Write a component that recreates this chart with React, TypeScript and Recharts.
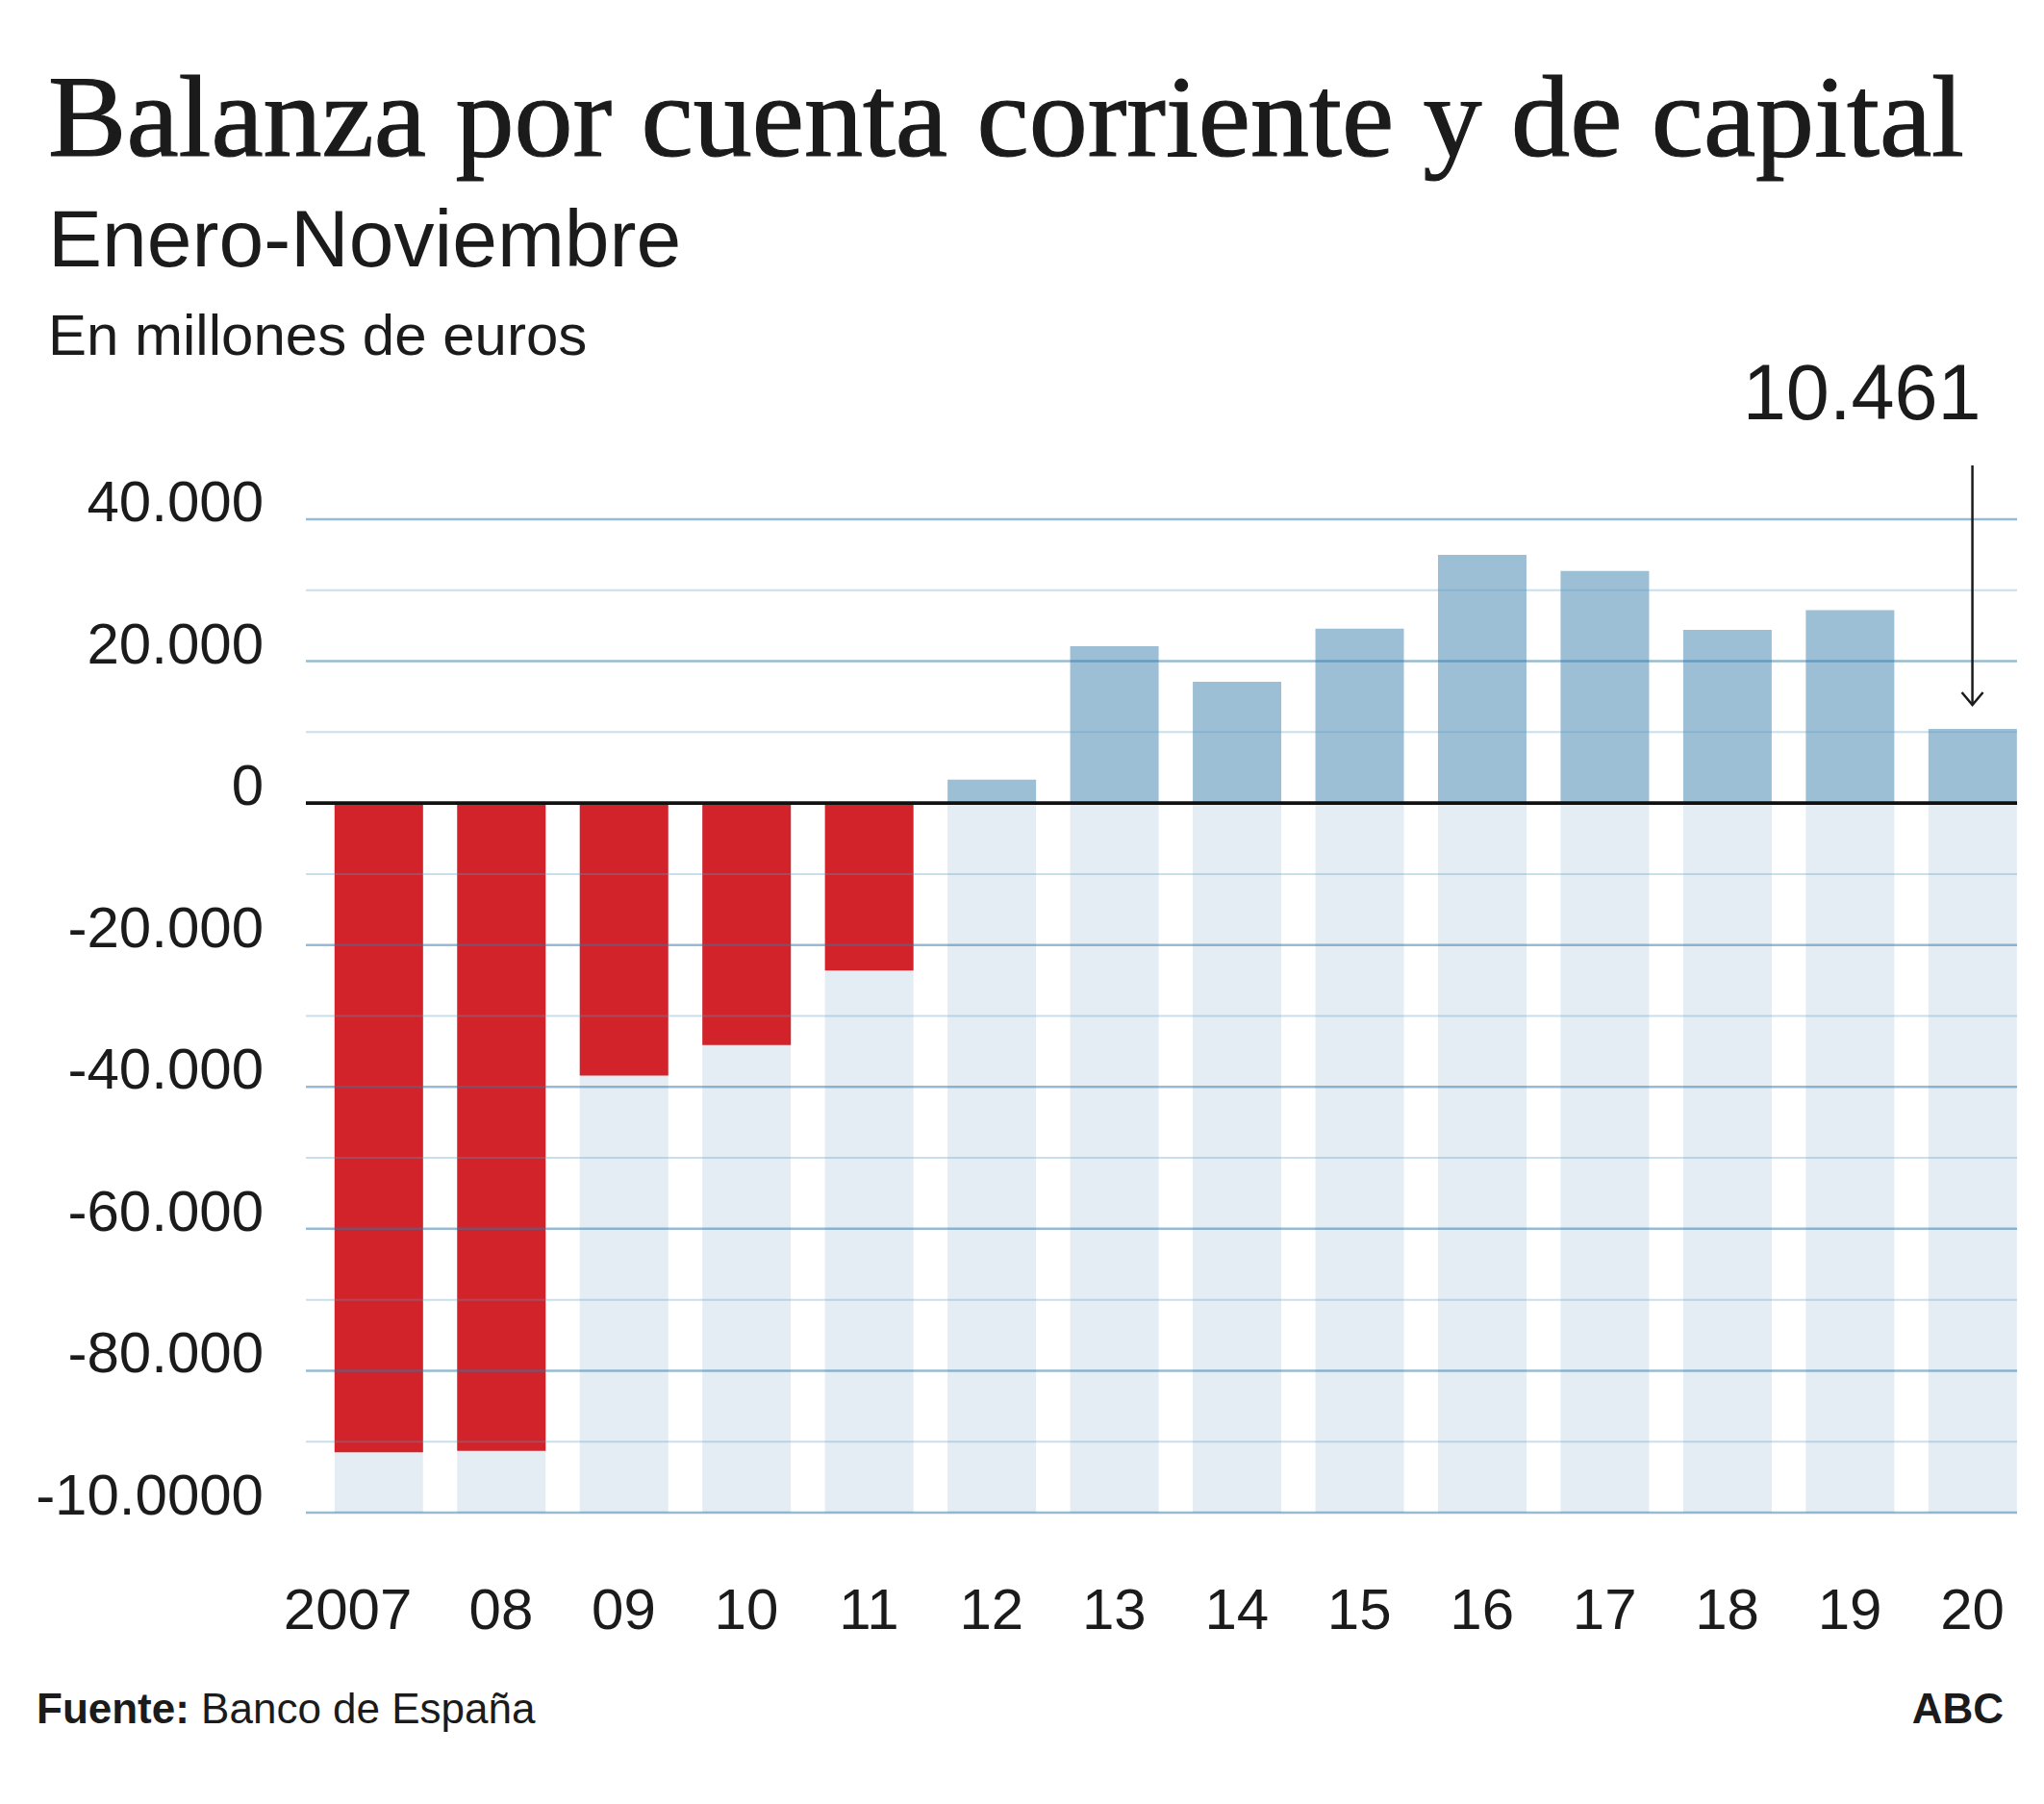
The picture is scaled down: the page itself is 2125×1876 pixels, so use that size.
import React from 'react';
import { BarChart, Bar, XAxis, YAxis, ReferenceLine, ReferenceDot, Cell } from 'recharts';

// ---- data ----
const years = ['2007', '08', '09', '10', '11', '12', '13', '14', '15', '16', '17', '18', '19', '20'];
const balance = [-91500, -91300, -38400, -34100, -23600, 3300, 22100, 17100, 24600, 35000, 32700, 24400, 27200, 10461];
const yTickValues = [40000, 20000, 0, -20000, -40000, -60000, -80000, -100000];
const yTickLabels = ['40.000', '20.000', '0', '-20.000', '-40.000', '-60.000', '-80.000', '-10.0000'];
const majorGridValues = [40000, 20000, -20000, -40000, -60000, -80000, -100000];
const minorGridValues = [30000, 10000, -10000, -30000, -50000, -70000, -90000];
const Y_MIN = -100000;
const Y_MAX = 40000;
const highlightYear = '20';
const highlightLabel = '10.461';
const highlightValue = 10461;

const data = years.map((year, i) => ({ year, value: balance[i], floor: Y_MIN }));

const SANS = '"Liberation Sans", Arial, sans-serif';
const SERIF = '"Liberation Serif", "Times New Roman", serif';
const INK = '#1b1b1b';

const XTick = (props: any) => {
  const { x, y, payload, index } = props;
  const shift = index === 0 ? -32 : 0;
  return (
    <text x={x + shift} y={y} textAnchor="middle" fontSize={60} fontFamily={SANS} fill={INK}>
      {payload.value}
    </text>
  );
};

const YTick = (props: any) => {
  const { x, y, payload } = props;
  const idx = yTickValues.indexOf(payload.value);
  return (
    <text x={x} y={y + 2} textAnchor="end" fontSize={60} fontFamily={SANS} fill={INK}>
      {idx >= 0 ? yTickLabels[idx] : ''}
    </text>
  );
};

const ArrowAnnotation = (props: any) => {
  const { cx, cy } = props;
  const tipY = cy - 25;
  const topY = cy - 274;
  return (
    <g>
      <line x1={cx} y1={topY} x2={cx} y2={tipY} stroke={INK} strokeWidth={2.5} />
      <polyline
        points={`${cx - 11},${tipY - 13} ${cx},${tipY} ${cx + 11},${tipY - 13}`}
        fill="none"
        stroke={INK}
        strokeWidth={2.5}
      />
      <text x={cx + 9} y={cy - 322} textAnchor="end" fontSize={81} fontFamily={SANS} fill={INK}>
        {highlightLabel}
      </text>
    </g>
  );
};

export default function App() {
  return (
    <div style={{ position: 'absolute', left: 0, top: 0, width: 2125, height: 1876, background: '#fff' }}>
      <svg width={2125} height={1876} style={{ position: 'absolute', left: 0, top: 0 }}>
        <text
          x={50}
          y={162}
          fontSize={121}
          fontFamily={SERIF}
          fill={INK}
          stroke={INK}
          strokeWidth={1.2}
          textLength={1992}
          lengthAdjust="spacingAndGlyphs"
        >
          Balanza por cuenta corriente y de capital
        </text>
        <text x={50} y={277} fontSize={84} fontFamily={SANS} fill={INK}>
          Enero-Noviembre
        </text>
        <text x={50} y={369} fontSize={60} fontFamily={SANS} fill={INK}>
          En millones de euros
        </text>
        <text x={38} y={1792} fontSize={44} fontFamily={SANS} fill={INK}>
          <tspan fontWeight="bold">Fuente:</tspan> Banco de España
        </text>
        <text x={2083} y={1792} fontSize={44} fontFamily={SANS} fontWeight="bold" fill={INK} textAnchor="end">
          ABC
        </text>
      </svg>
      <div style={{ position: 'absolute', left: 0, top: 0 }}>
        <BarChart
          width={2125}
          height={1876}
          data={data}
          margin={{ top: 540, right: 28, bottom: 203, left: 38 }}
          barSize={92}
          barGap={-92}
        >
          <XAxis
            dataKey="year"
            axisLine={false}
            tickLine={false}
            tickSize={0}
            tickMargin={121}
            height={100}
            interval={0}
            padding={{ left: 11.8, right: -17.3 }}
            tick={<XTick />}
          />
          <YAxis
            type="number"
            domain={[Y_MIN, Y_MAX]}
            ticks={yTickValues}
            allowDataOverflow
            axisLine={false}
            tickLine={false}
            tickSize={0}
            tickMargin={44}
            width={280}
            interval={0}
            tick={<YTick />}
          />
          <Bar dataKey="floor" fill="#e4edf4" isAnimationActive={false} />
          <Bar dataKey="value" isAnimationActive={false}>
            {data.map((d) => (
              <Cell key={d.year} fill={d.value < 0 ? '#d2232b' : '#9dbfd5'} />
            ))}
          </Bar>
          {minorGridValues.map((v) => (
            <ReferenceLine key={'mi' + v} y={v} stroke="#5b9bc4" strokeOpacity={0.32} strokeWidth={2} />
          ))}
          {majorGridValues.map((v) => (
            <ReferenceLine key={'ma' + v} y={v} stroke="#2f77a6" strokeOpacity={0.5} strokeWidth={2.5} />
          ))}
          <ReferenceLine y={0} stroke="#111" strokeWidth={3.6} />
          <ReferenceDot x={highlightYear} y={highlightValue} ifOverflow="visible" shape={ArrowAnnotation} />
        </BarChart>
      </div>
    </div>
  );
}
